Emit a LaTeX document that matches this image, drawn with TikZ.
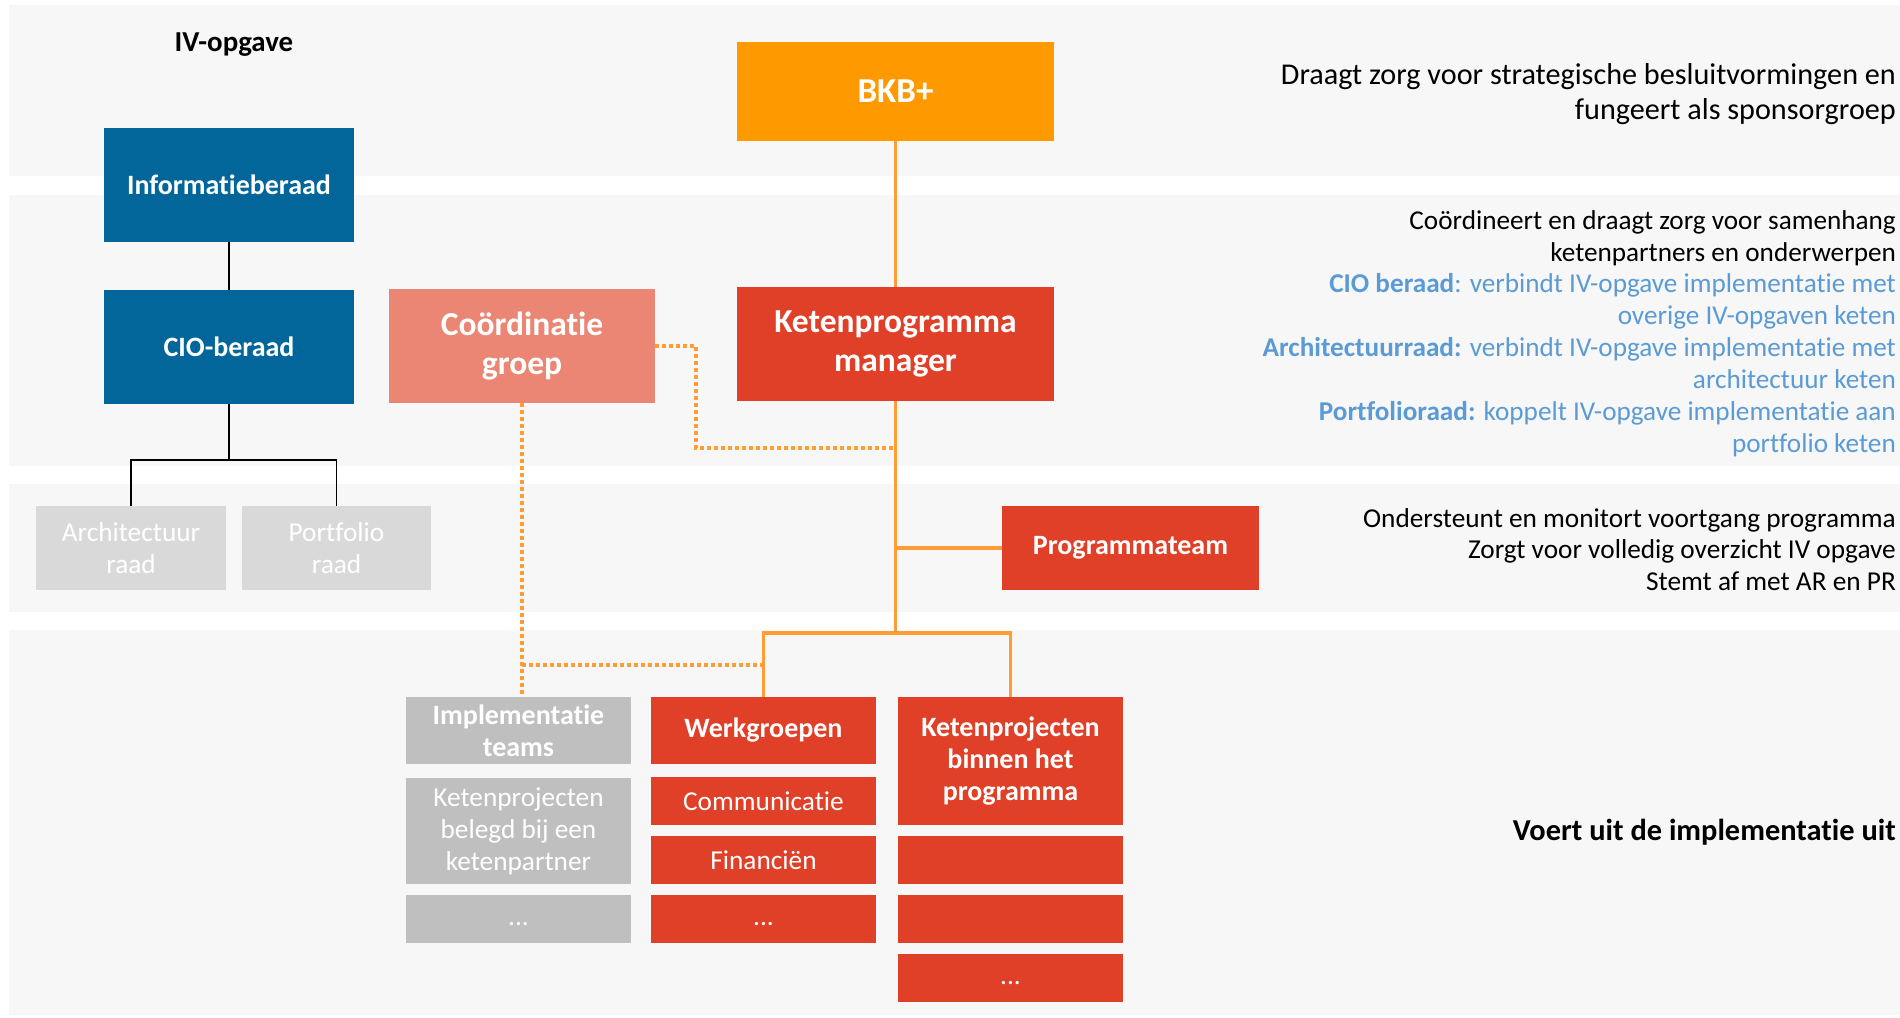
\documentclass[tikz,border=0pt]{standalone}
\usepackage{fontspec}
\setmainfont{Carlito}[Ligatures=NoCommon]
\definecolor{band}{HTML}{F7F7F7}
\definecolor{cbkb}{HTML}{FF9900}
\definecolor{cblue}{HTML}{02669A}
\definecolor{cred}{HTML}{E04027}
\definecolor{csalmon}{HTML}{EB8674}
\definecolor{clgray}{HTML}{D9D9D9}
\definecolor{cgray}{HTML}{BFBFBF}
\definecolor{corange}{HTML}{FF9C33}
\definecolor{tblue}{HTML}{5B9BD5}
\tikzset{
  box/.style={rectangle, inner sep=0pt, text=white, align=center},
  sz/.style 2 args={minimum width=#1, minimum height=#2},
  fb/.style={font=\fontsize{28}{32}\selectfont\bfseries},
  fr/.style={font=\fontsize{27.3}{32}\selectfont},
  fbig/.style={font=\fontsize{33.5}{39}\selectfont\bfseries},
  side/.style={anchor=east, align=right, inner sep=0pt, text=black},
  oline/.style={draw=corange, line width=3.5pt},
  odot/.style={draw=corange, line width=3.5pt, dash pattern=on 4pt off 3pt},
  bline/.style={draw=black, line width=1.6pt}
}
\newcommand\myell{\vphantom{Ag}...}
\begin{document}
\begin{tikzpicture}[x=1pt,y=-1pt]
\useasboundingbox (0,0) rectangle (1900,1017);
\fill[white] (0,0) rectangle (1900,1017);
% bands
\fill[band] (9,5) rectangle (1900,176);
\fill[band] (9,195) rectangle (1900,466);
\fill[band] (9,484) rectangle (1900,612);
\fill[band] (9,630) rectangle (1900,1015);

% title
\node[inner sep=0pt, font=\fontsize{28.9}{33}\selectfont\bfseries] (title) at (234,45) {IV-opgave};

% nodes
\node[box, font=\fontsize{35}{40}\selectfont\bfseries, sz={317}{99}, fill=cbkb] (bkb) at (895.5,91.5) {BKB+};
\node[box, fb, sz={250}{114}, fill=cblue] (info) at (229,185) {Informatieberaad};
\node[box, fb, sz={250}{114}, fill=cblue] (cio) at (229,347) {CIO-beraad};
\node[box, fbig, sz={266}{114}, fill=csalmon] (coord) at (522,346) {Coördinatie\\groep};
\node[box, fbig, sz={317}{114}, fill=cred] (kpm) at (895.5,344) {Ketenprogramma\\manager};
\node[box, fr, sz={190}{84}, fill=clgray] (arch) at (131,548) {Architectuur\\raad};
\node[box, fr, sz={189}{84}, fill=clgray] (port) at (336.5,548) {Portfolio\\raad};
\node[box, fb, sz={257}{84}, fill=cred] (pteam) at (1130.5,548) {Programmateam};

\node[box, fb, sz={225}{67}, fill=cgray] (impl) at (518.5,730.5) {Implementatie\\teams};
\node[box, fr, sz={225}{106}, fill=cgray] (kbel) at (518.5,831) {Ketenprojecten\\belegd bij een\\ketenpartner};
\node[box, fr, sz={225}{48}, fill=cgray] (gdots) at (518.5,919) {\myell};

\node[box, fb, sz={225}{67}, fill=cred] (werk) at (763.5,730.5) {Werkgroepen};
\node[box, fr, sz={225}{48}, fill=cred] (comm) at (763.5,801) {Communicatie};
\node[box, fr, sz={225}{48}, fill=cred] (fin) at (763.5,860) {Financiën};
\node[box, fr, sz={225}{48}, fill=cred] (rdots) at (763.5,919) {\myell};

\node[box, fb, sz={225}{128}, fill=cred] (kbin) at (1010.5,761) {Ketenprojecten\\binnen het\\programma};
\node[box, fr, sz={225}{48}, fill=cred] (kb1) at (1010.5,860) {};
\node[box, fr, sz={225}{48}, fill=cred] (kb2) at (1010.5,919) {};
\node[box, fr, sz={225}{48}, fill=cred] (kb3) at (1010.5,978) {\myell};

% black connectors
\coordinate (cj) at (229,460);
\draw[bline] (info.south) -- (cio.north);
\draw[bline] (cio.south) -- (cj);
\draw[bline] (arch.north) |- (cj) -| (port.north);

% orange connectors
\coordinate (oj) at (895.5,633);
\coordinate (pj) at (895.5,548);
\coordinate (dj) at (895.5,448);
\draw[oline] (bkb.south) -- (kpm.north);
\draw[oline] (kpm.south) -- (oj);
\draw[oline] (pj) -- (pteam.west);
\draw[oline] (werk.north) |- (oj) -| (kbin.north);

% dotted connectors
\coordinate (d1) at (696,346);
\coordinate (d2) at (696,448);
\coordinate (d3) at (522,665);
\coordinate (d4) at (763.5,665);
\draw[odot] (coord.east) -- (d1) -- (d2) -- (dj);
\draw[odot] (coord.south) -- (coord.south |- impl.north);
\draw[odot] (d3) -- (d4);

% side texts
\node[side, font=\fontsize{30.2}{35}\selectfont] (t1) at (1896,94.5) {Draagt zorg voor strategische besluitvormingen en\\fungeert als sponsorgroep};
\node[side, font=\fontsize{27.2}{31.9}\selectfont] (t2) at (1896,333.5) {Coördineert en draagt zorg voor samenhang\\ketenpartners en onderwerpen\\
\textcolor{tblue}{\textbf{CIO beraad}: verbindt IV-opgave implementatie met}\\
\textcolor{tblue}{overige IV-opgaven keten}\\
\textcolor{tblue}{\textbf{Architectuurraad:} verbindt IV-opgave implementatie met}\\
\textcolor{tblue}{architectuur keten}\\
\textcolor{tblue}{\textbf{Portfolioraad:} koppelt IV-opgave implementatie aan}\\
\textcolor{tblue}{portfolio keten}};
\node[side, font=\fontsize{27.3}{31.5}\selectfont] (t3) at (1896,549.5) {Ondersteunt en monitort voortgang programma\\Zorgt voor volledig overzicht IV opgave\\Stemt af met AR en PR};
\node[side, font=\fontsize{30.4}{33}\selectfont\bfseries] (t4) at (1896,832.5) {Voert uit de implementatie uit};
\end{tikzpicture}
\end{document}
